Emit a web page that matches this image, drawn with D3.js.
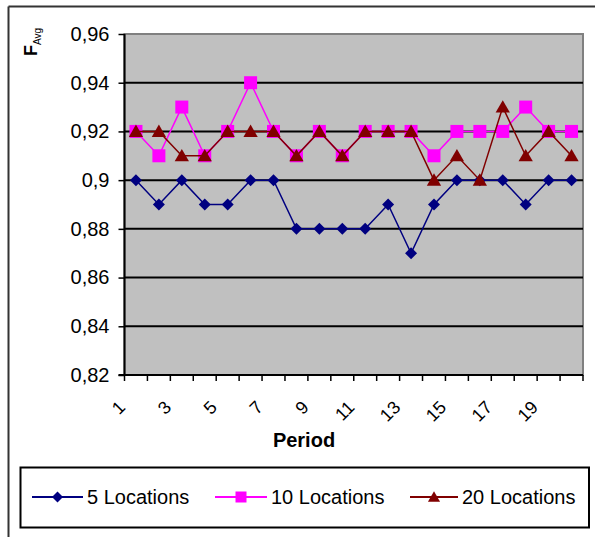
<!DOCTYPE html>
<html>
<head>
<meta charset="utf-8">
<script src="https://cdn.jsdelivr.net/npm/d3@7"></script>
<style>
  html, body { margin: 0; padding: 0; background: #fff; }
  svg { display: block; }
  text { font-family: Arial, "Liberation Sans", sans-serif; fill: #000; }
</style>
</head>
<body>
<svg id="chart" width="595" height="537"></svg>
<script>
// ---- data ----
const periods = d3.range(1, 21);
const seriesNames = ["5 Locations", "10 Locations", "20 Locations"];
const loc5  = [0.90,0.89,0.90,0.89,0.89,0.90,0.90,0.88,0.88,0.88,0.88,0.89,0.87,0.89,0.90,0.90,0.90,0.89,0.90,0.90];
const loc10 = [0.92,0.91,0.93,0.91,0.92,0.94,0.92,0.91,0.92,0.91,0.92,0.92,0.92,0.91,0.92,0.92,0.92,0.93,0.92,0.92];
const loc20 = [0.92,0.92,0.91,0.91,0.92,0.92,0.92,0.91,0.92,0.91,0.92,0.92,0.92,0.90,0.91,0.90,0.93,0.91,0.92,0.91];
const yTickValues = [0.82,0.84,0.86,0.88,0.90,0.92,0.94,0.96];
const yTickLabels = ["0,82","0,84","0,86","0,88","0,9","0,92","0,94","0,96"];
const xTickLabels = ["1","3","5","7","9","11","13","15","17","19"];
const colors = ["#000080", "#FF00FF", "#800000"];
const markers = ["diamond", "square", "triangle"];

const svg = d3.select("#chart");
const L = 124.5, R = 583, T = 34, B = 375;

const x = d3.scaleBand().domain(periods).range([L, R]).padding(0);
const y = d3.scaleLinear().domain([0.82, 0.96]).range([B, T]);

// outer chart border (top + left)
svg.append("line").attr("x1", 8.5).attr("x2", 595).attr("y1", 6.5).attr("y2", 6.5)
  .attr("stroke", "#333").attr("stroke-width", 2);
svg.append("line").attr("x1", 8.5).attr("x2", 8.5).attr("y1", 6.5).attr("y2", 537)
  .attr("stroke", "#333").attr("stroke-width", 2);

// plot area
svg.append("rect").attr("x", L).attr("y", T).attr("width", R - L).attr("height", B - T)
  .attr("fill", "#C0C0C0").attr("stroke", "#808080").attr("stroke-width", 2);

// gridlines
svg.append("g").selectAll("line")
  .data(yTickValues.filter(v => v > 0.82 && v < 0.96))
  .join("line")
  .attr("x1", L).attr("x2", R)
  .attr("y1", d => y(d)).attr("y2", d => y(d))
  .attr("stroke", "#000").attr("stroke-width", 2);

// y axis
const yAxis = d3.axisLeft(y).tickValues(yTickValues)
  .tickFormat((d, i) => yTickLabels[i]).tickSize(6).tickPadding(9);
const gy = svg.append("g").attr("transform", `translate(${L},0)`).call(yAxis);
gy.select(".domain").attr("stroke", "#000").attr("stroke-width", 2).attr("d", `M0,${T}V${B}`);
gy.selectAll(".tick line").attr("stroke", "#000").attr("stroke-width", 1.5);
gy.selectAll(".tick text").attr("font-size", 20).attr("font-family", "Arial, 'Liberation Sans', sans-serif").attr("fill", "#000");

// x axis line + ticks at category boundaries
svg.append("line").attr("x1", L - 6).attr("x2", R).attr("y1", B).attr("y2", B)
  .attr("stroke", "#000").attr("stroke-width", 2);
const bounds = periods.map(p => x(p)).concat([x(20) + x.bandwidth()]);
svg.append("g").selectAll("line").data(bounds).join("line")
  .attr("x1", d => d).attr("x2", d => d).attr("y1", B).attr("y2", B + 6)
  .attr("stroke", "#000").attr("stroke-width", 1.5);

// x tick labels (rotated)
svg.append("g").selectAll("text").data(xTickLabels).join("text")
  .attr("transform", d => {
    const cx = x(+d) + x.bandwidth() / 2;
    return `translate(${cx - 14},${B + 29}) rotate(-45)`;
  })
  .attr("text-anchor", "end")
  .attr("dy", "0.35em")
  .attr("font-size", 18)
  .text(d => d);

// axis titles
svg.append("text").attr("x", 304).attr("y", 447).attr("text-anchor", "middle")
  .attr("font-size", 20).attr("font-weight", "bold").text("Period");

const yt = svg.append("text").attr("transform", "translate(37,56) rotate(-90)");
yt.append("tspan").attr("font-size", 18).attr("font-weight", "bold").text("F");
yt.append("tspan").attr("font-size", 10).attr("dy", 4).text("Avg");

// marker paths
function markerPath(type, s) {
  if (type === "diamond") return `M0,${-s}L${s},0L0,${s}L${-s},0Z`;
  if (type === "square") return `M${-s},${-s}H${s}V${s}H${-s}Z`;
  return `M0,${-s * 1.05}L${s * 1.1},${s * 0.85}H${-s * 1.1}Z`;
}
const markerSize = [6, 6.5, 6.5];

const allSeries = [loc5, loc10, loc20];
const line = d3.line().x((d, i) => x(periods[i]) + x.bandwidth() / 2).y(d => y(d));

allSeries.forEach((vals, si) => {
  const g = svg.append("g");
  g.append("path").datum(vals).attr("d", line)
    .attr("fill", "none").attr("stroke", colors[si]).attr("stroke-width", 1.5);
  g.selectAll("path.m").data(vals).join("path").attr("class", "m")
    .attr("transform", (d, i) => `translate(${x(periods[i]) + x.bandwidth() / 2},${y(d)})`)
    .attr("d", markerPath(markers[si], markerSize[si]))
    .attr("fill", colors[si]);
});

// legend
svg.append("rect").attr("x", 20.5).attr("y", 467.5).attr("width", 568.5).attr("height", 60)
  .attr("fill", "#fff").attr("stroke", "#000").attr("stroke-width", 2);
const legendLineStart = [32, 215, 410];
const legendLineEnd = [83, 267, 458];
const ly = 497;
seriesNames.forEach((name, si) => {
  const g = svg.append("g");
  g.append("line").attr("x1", legendLineStart[si]).attr("x2", legendLineEnd[si])
    .attr("y1", ly).attr("y2", ly).attr("stroke", colors[si]).attr("stroke-width", 2);
  g.append("path")
    .attr("transform", `translate(${(legendLineStart[si] + legendLineEnd[si]) / 2},${ly})`)
    .attr("d", markerPath(markers[si], 5.5)).attr("fill", colors[si]);
  g.append("text").attr("x", legendLineEnd[si] + 4).attr("y", ly).attr("dy", "0.35em")
    .attr("font-size", 20).text(name);
});
</script>
</body>
</html>
